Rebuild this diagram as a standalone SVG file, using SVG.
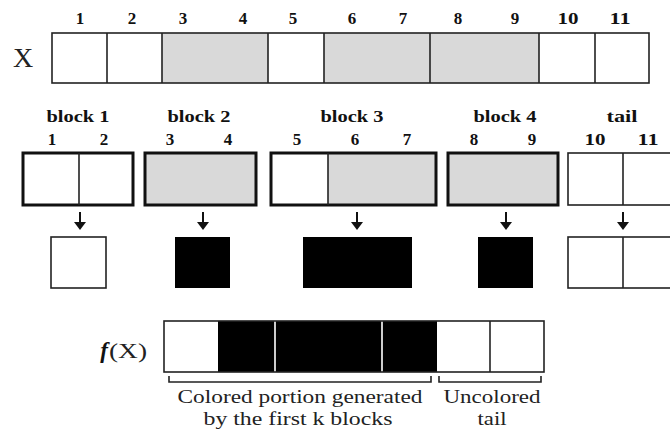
<svg xmlns="http://www.w3.org/2000/svg" width="670" height="433" viewBox="0 0 670 433">
<style>
.thin{fill:none;stroke:#222;stroke-width:1.6}
.thick{fill:none;stroke:#111;stroke-width:3}
.w{fill:#fff}
.g{fill:#d9d9d9}
.k{fill:#000}
.num{font-family:"Liberation Serif",serif;font-weight:bold;font-size:17px;fill:#111;text-anchor:middle}
.lbl{font-family:"Liberation Serif",serif;font-weight:bold;font-size:17px;fill:#111;text-anchor:middle}
.cap{font-family:"Liberation Serif",serif;font-size:19px;fill:#222;text-anchor:middle}
.arr{stroke:#111;stroke-width:2;fill:none}
.head{fill:#111}
</style>
<rect width="670" height="433" fill="#fff"/>

<g id="x-row">
<text x="23" y="67" font-family="Liberation Serif, serif" font-size="28" fill="#222" text-anchor="middle">X</text>
<rect class="w" x="52" y="33" width="110" height="50"/>
<rect class="g" x="162" y="33" width="106" height="50"/>
<rect class="w" x="268" y="33" width="56" height="50"/>
<rect class="g" x="324" y="33" width="215" height="50"/>
<rect class="w" x="539" y="33" width="110" height="50"/>
<rect class="thin" x="52" y="33" width="597" height="50"/>
<path class="thin" d="M107,33V83 M162,33V83 M268,33V83 M324,33V83 M430,33V83 M539,33V83 M595,33V83"/>
<g class="num">
<text x="80" y="24">1</text><text x="132" y="24">2</text><text x="183" y="24">3</text><text x="243" y="24">4</text><text x="293" y="24">5</text><text x="352" y="24">6</text><text x="403" y="24">7</text><text x="458" y="24">8</text><text x="515" y="24">9</text><text x="568" y="24" textLength="21" lengthAdjust="spacingAndGlyphs">10</text><text x="620" y="24" textLength="21" lengthAdjust="spacingAndGlyphs">11</text>
</g>
</g>

<g id="block1">
<text class="lbl" x="78" y="122" textLength="63" lengthAdjust="spacingAndGlyphs">block 1</text>
<text class="num" x="52" y="145">1</text><text class="num" x="104" y="145">2</text>
<rect class="w" x="23" y="153" width="110" height="52"/>
<rect class="thick" x="23" y="153" width="110" height="52"/>
<path class="thin" d="M79,153V205"/>
<rect class="w" x="51" y="237" width="55" height="51"/>
<rect class="thin" x="51" y="237" width="55" height="51"/>
</g>

<g id="block2">
<text class="lbl" x="199" y="122" textLength="63" lengthAdjust="spacingAndGlyphs">block 2</text>
<text class="num" x="170" y="145">3</text><text class="num" x="228" y="145">4</text>
<rect class="g" x="145" y="153" width="111" height="52"/>
<rect class="thick" x="145" y="153" width="111" height="52"/>
<rect class="k" x="175" y="237" width="55" height="51"/>
</g>

<g id="block3">
<text class="lbl" x="352" y="122" textLength="63" lengthAdjust="spacingAndGlyphs">block 3</text>
<text class="num" x="297" y="145">5</text><text class="num" x="355" y="145">6</text><text class="num" x="407" y="145">7</text>
<rect class="w" x="271" y="153" width="57" height="52"/>
<rect class="g" x="328" y="153" width="108" height="52"/>
<rect class="thick" x="271" y="153" width="165" height="52"/>
<path class="thin" d="M328,153V205"/>
<rect class="k" x="303" y="237" width="109" height="51"/>
</g>

<g id="block4">
<text class="lbl" x="505" y="122" textLength="63" lengthAdjust="spacingAndGlyphs">block 4</text>
<text class="num" x="474" y="145">8</text><text class="num" x="532" y="145">9</text>
<rect class="g" x="448" y="153" width="110" height="52"/>
<rect class="thick" x="448" y="153" width="110" height="52"/>
<rect class="k" x="478" y="237" width="55" height="51"/>
</g>

<g id="tail">
<text class="lbl" x="622" y="122" textLength="31" lengthAdjust="spacingAndGlyphs">tail</text>
<text class="num" x="595" y="145" textLength="21" lengthAdjust="spacingAndGlyphs">10</text><text class="num" x="648" y="145" textLength="21" lengthAdjust="spacingAndGlyphs">11</text>
<rect class="w" x="568" y="153" width="110" height="52"/>
<rect class="thin" x="568" y="153" width="110" height="52"/>
<path class="thin" d="M623,153V205"/>
<rect class="w" x="568" y="237" width="110" height="51"/>
<rect class="thin" x="568" y="237" width="110" height="51"/>
<path class="thin" d="M623,237V288"/>
</g>

<g id="connectors">
<path class="arr" d="M80,212V222"/><path class="head" d="M74,222H86L80,230Z"/>
<path class="arr" d="M203,212V222"/><path class="head" d="M197,222H209L203,230Z"/>
<path class="arr" d="M357,212V222"/><path class="head" d="M351,222H363L357,230Z"/>
<path class="arr" d="M506,212V222"/><path class="head" d="M500,222H512L506,230Z"/>
<path class="arr" d="M623,212V222"/><path class="head" d="M617,222H629L623,230Z"/>
</g>

<g id="fx">
<text x="108" y="358" font-family="Liberation Serif, serif" font-size="23" fill="#111" text-anchor="end" font-weight="bold" font-style="italic">f</text>
<text x="109" y="358" font-family="Liberation Serif, serif" font-size="22" fill="#222" textLength="38" lengthAdjust="spacingAndGlyphs">(X)</text>
<rect class="w" x="164" y="321" width="380" height="51"/>
<rect class="k" x="218" y="321" width="219" height="51"/>
<path d="M275,321V372 M382,321V372" stroke="#fff" stroke-width="1.6"/>
<rect class="thin" x="164" y="321" width="380" height="51"/>
<path class="thin" d="M490,321V372"/>
</g>

<g id="captions">
<path class="thin" d="M169,376V382H431V376"/>
<path class="thin" d="M439,376V382H541V376"/>
<text class="cap" x="300" y="403" textLength="245" lengthAdjust="spacingAndGlyphs">Colored portion generated</text>
<text class="cap" x="298" y="425" textLength="189" lengthAdjust="spacingAndGlyphs">by the first k blocks</text>
<text class="cap" x="492" y="403" textLength="97" lengthAdjust="spacingAndGlyphs">Uncolored</text>
<text class="cap" x="492" y="425" textLength="29" lengthAdjust="spacingAndGlyphs">tail</text>
</g>
</svg>
